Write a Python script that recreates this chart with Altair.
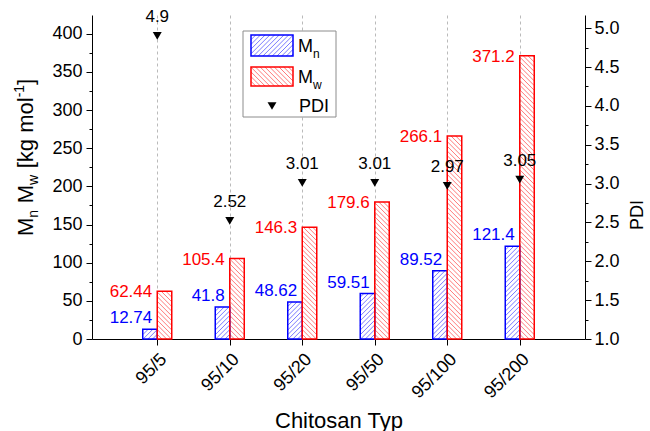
import altair as alt
import pandas as pd

# ---------------- data ----------------
categories = ["95/5", "95/10", "95/20", "95/50", "95/100", "95/200"]
mn_values = [12.74, 41.8, 48.62, 59.51, 89.52, 121.4]
mw_values = [62.44, 105.4, 146.3, 179.6, 266.1, 371.2]
pdi_values = [4.9, 2.52, 3.01, 3.01, 2.97, 3.05]

series_names = ["Mn", "Mw"]
series_colors = ["#0000ff", "#ff0000"]
hatch_colors = ["#7a7aff", "#ff7a7a"]

n_cat = len(categories)
bars_df = pd.DataFrame({
    "idx": list(range(1, n_cat + 1)) * 2,
    "series": [series_names[0]] * n_cat + [series_names[1]] * n_cat,
    "value": mn_values + mw_values,
})
bars_df["label"] = bars_df["value"].map(str)

pdi_df = pd.DataFrame({"idx": list(range(1, n_cat + 1)), "pdi": pdi_values})
pdi_df["label"] = pdi_df["pdi"].map(str)

# ---------------- layout ----------------
W, H = 493, 324
PAD = {"left": 92, "top": 15, "right": 65, "bottom": 92}
X_DOM = [0.1, 6.9]
Y_DOM = [0, 424.5]
P_DOM = [1.0, 5.17]
BAR_W = 0.2          # bar width in category units
HATCH_GAP = 4.7      # vertical distance between hatch lines, px
FONT = "Liberation Sans"
TICK_FS = 18
VALUE_FS = 17

px_x = W / (X_DOM[1] - X_DOM[0])
px_y = H / (Y_DOM[1] - Y_DOM[0])
D = BAR_W * px_x / px_y      # 45 degree rise across one bar, in y units
S = HATCH_GAP / px_y         # hatch spacing in y units

xs = alt.Scale(domain=X_DOM, nice=False, zero=False)
ys = alt.Scale(domain=Y_DOM, nice=False, zero=False)
ps = alt.Scale(domain=P_DOM, nice=False, zero=False)

x_label_expr = "[" + ",".join(f"'{c}'" for c in categories) + "][datum.value - 1]"
x_axis = alt.Axis(
    values=list(range(1, n_cat + 1)), labelExpr=x_label_expr,
    grid=True, gridDash=[3, 3], gridColor="#a8a8a8", gridWidth=0.8,
    domainColor="black", domainWidth=1, tickColor="black", tickSize=6, tickWidth=1,
    labelAngle=315, labelAlign="right", labelBaseline="top", labelPadding=5,
    labelFontSize=TICK_FS, labelColor="black", labelOverlap=False,
    title="Chitosan Typ", titleFontSize=22, titleFontWeight="normal",
    titleColor="black", titleY=88, titleBaseline="alphabetic",
)
y_axis = alt.Axis(
    values=list(range(0, 425, 25)),
    labelExpr="datum.value % 50 === 0 ? datum.label : ''",
    tickSize={"condition": {"test": "datum.value % 50 === 0", "value": 6}, "value": 3},
    grid=False, domainColor="black", tickColor="black", tickWidth=1,
    labelFontSize=TICK_FS, labelColor="black", labelPadding=4, title="",
)
p_axis = alt.Axis(
    orient="right",
    values=[round(P_DOM[0] + 0.25 * i, 2) for i in range(17)],
    labelExpr="round(datum.value * 4) % 2 === 0 ? format(datum.value, '.1f') : ''",
    tickSize={"condition": {"test": "round(datum.value * 4) % 2 === 0", "value": 6}, "value": 3},
    grid=False, domainColor="black", tickColor="black", tickWidth=1,
    labelFontSize=TICK_FS, labelColor="black", labelPadding=3, title="",
)

IS_MN = f"datum.series === '{series_names[0]}'"

# ---------------- hatching inside the bars ----------------
hatch = (
    alt.Chart(bars_df)
    .transform_calculate(lo=f"{IS_MN} ? datum.idx - {BAR_W} : datum.idx")
    .transform_calculate(hc=f"{IS_MN} ? '{hatch_colors[0]}' : '{hatch_colors[1]}'")
    .transform_calculate(k=f"sequence(1, ceil((datum.value + {D}) / {S}) + 1)")
    .transform_flatten(["k"])
    .transform_calculate(c=f"datum.k * {S} - {D}")
    .transform_calculate(ya=f"{IS_MN} ? max(datum.c, 0) : min(datum.c + {D}, datum.value)")
    .transform_calculate(yb=f"{IS_MN} ? min(datum.c + {D}, datum.value) : max(datum.c, 0)")
    .transform_calculate(xa=f"{IS_MN} ? datum.lo + (datum.ya - datum.c) / {D} * {BAR_W} "
                            f": datum.lo + (datum.c + {D} - datum.ya) / {D} * {BAR_W}")
    .transform_calculate(xb=f"{IS_MN} ? datum.lo + (datum.yb - datum.c) / {D} * {BAR_W} "
                            f": datum.lo + (datum.c + {D} - datum.yb) / {D} * {BAR_W}")
    .transform_filter(f"{IS_MN} ? datum.yb > datum.ya + 0.01 : datum.ya > datum.yb + 0.01")
    .mark_rule(strokeWidth=1)
    .encode(
        x=alt.X("xa:Q", scale=xs, axis=x_axis), x2="xb:Q",
        y=alt.Y("ya:Q", scale=ys, axis=y_axis), y2="yb:Q",
        color=alt.Color("hc:N", scale=None),
    )
)

bars = (
    alt.Chart(bars_df)
    .transform_calculate(lo=f"{IS_MN} ? datum.idx - {BAR_W} : datum.idx")
    .transform_calculate(hi=f"datum.lo + {BAR_W}")
    .transform_calculate(bc=f"{IS_MN} ? '{series_colors[0]}' : '{series_colors[1]}'")
    .mark_bar(fill="transparent", strokeWidth=1.5)
    .encode(
        x=alt.X("lo:Q", scale=xs, axis=x_axis), x2="hi:Q",
        y=alt.Y("value:Q", scale=ys, axis=y_axis), y2=alt.datum(0),
        stroke=alt.Stroke("bc:N", scale=None),
    )
)


def value_labels(series, color, dy):
    return (
        alt.Chart(bars_df)
        .transform_filter(f"datum.series === '{series}'")
        .mark_text(align="right", baseline="middle", dx=-5, dy=dy,
                   fontSize=VALUE_FS, color=color)
        .encode(
            x=alt.X("idx:Q", scale=xs, axis=x_axis),
            y=alt.Y("value:Q", scale=ys, axis=y_axis),
            text="label:N",
        )
    )


mn_labels = value_labels(series_names[0], series_colors[0], -11)
mw_labels = value_labels(series_names[1], series_colors[1], 1)

left = alt.layer(hatch, bars, mn_labels, mw_labels)

pdi_points = alt.Chart(pdi_df).mark_point(
    shape="triangle-down", filled=True, size=80, color="black", opacity=1
).encode(
    x=alt.X("idx:Q", scale=xs, axis=x_axis),
    y=alt.Y("pdi:Q", scale=ps, axis=p_axis),
)
pdi_text = alt.Chart(pdi_df).mark_text(
    dy=-19, baseline="middle", fontSize=VALUE_FS, color="black"
).encode(
    x=alt.X("idx:Q", scale=xs, axis=x_axis),
    y=alt.Y("pdi:Q", scale=ps, axis=p_axis),
    text="label:N",
)
right = alt.layer(pdi_points, pdi_text)

# ---------------- titles and legend (pixel space) ----------------
one = pd.DataFrame({"o": [0]})
ADV = {"M": .833, "n": .556, "w": .722, " ": .278, "[": .278, "k": .5, "g": .556,
       "m": .833, "o": .556, "l": .222, "-": .333, "1": .556, "]": .278}


def text_piece(s, x, y, size, angle=0, align="left", baseline="alphabetic", color="black"):
    return alt.Chart(one).mark_text(
        text=s, angle=angle, align=align, baseline=baseline,
        fontSize=size, color=color,
    ).encode(x=alt.value(x), y=alt.value(y))


# y-axis title: M_n M_w [kg mol^-1], reading upwards; gaps are explicit advances
TITLE_SIZE, SUB_SIZE = 22, 14
pieces = [("M", TITLE_SIZE, 0, 0), ("n", SUB_SIZE, 5, 0.3), ("M", TITLE_SIZE, 0, 0),
          ("w", SUB_SIZE, 5, 0.3), ("[kg mol", TITLE_SIZE, 0, 0), ("-1", SUB_SIZE, -9, 0),
          ("]", TITLE_SIZE, 0, 0)]
title_layers = []
ty = 221.0
tx = -59.0
for s, size, shift, gap_after in pieces:
    title_layers.append(text_piece(s, tx + shift, ty, size, angle=270))
    ty -= sum(ADV[ch] for ch in s) * size + gap_after * TITLE_SIZE

title_layers.append(text_piece("PDI", 551, 200, 18, angle=270, align="center"))

# legend box
LEG = (151, 16, 244, 102)
SW_X = (159, 201)
SW_Y = {series_names[0]: (20, 41), series_names[1]: (52, 71)}
legend_box = alt.Chart(one).mark_rect(
    fill="white", stroke="#8c8c8c", strokeWidth=1
).encode(x=alt.value(LEG[0]), x2=alt.value(LEG[2]), y=alt.value(LEG[1]), y2=alt.value(LEG[3]))

leg_df = pd.DataFrame({"series": series_names})
G = HATCH_GAP
leg_hatch = (
    alt.Chart(leg_df)
    .transform_calculate(x0=str(SW_X[0]), x1=str(SW_X[1]))
    .transform_calculate(y0=f"{IS_MN} ? {SW_Y['Mn'][0]} : {SW_Y['Mw'][0]}")
    .transform_calculate(y1=f"{IS_MN} ? {SW_Y['Mn'][1]} : {SW_Y['Mw'][1]}")
    .transform_calculate(hc=f"{IS_MN} ? '{hatch_colors[0]}' : '{hatch_colors[1]}'")
    .transform_calculate(k=f"sequence(1, ceil((datum.x1 - datum.x0 + datum.y1 - datum.y0) / {G}))")
    .transform_flatten(["k"])
    .transform_calculate(C=f"{IS_MN} ? datum.x0 + datum.y0 + datum.k * {G} "
                           f": datum.x0 - datum.y1 + datum.k * {G}")
    .transform_calculate(xa=f"{IS_MN} ? max(datum.x0, datum.C - datum.y1) : max(datum.x0, datum.C + datum.y0)")
    .transform_calculate(xb=f"{IS_MN} ? min(datum.x1, datum.C - datum.y0) : min(datum.x1, datum.C + datum.y1)")
    .transform_calculate(ya=f"{IS_MN} ? datum.C - datum.xa : datum.xa - datum.C")
    .transform_calculate(yb=f"{IS_MN} ? datum.C - datum.xb : datum.xb - datum.C")
    .transform_filter("datum.xb > datum.xa + 0.1")
    .mark_rule(strokeWidth=1)
    .encode(
        x=alt.X("xa:Q", scale=None, axis=None), x2="xb:Q",
        y=alt.Y("ya:Q", scale=None, axis=None), y2="yb:Q",
        color=alt.Color("hc:N", scale=None),
    )
)

legend_layers = [legend_box, leg_hatch]
for name, col in zip(series_names, series_colors):
    y0, y1 = SW_Y[name]
    legend_layers.append(
        alt.Chart(one).mark_rect(fill="transparent", stroke=col, strokeWidth=1.5)
        .encode(x=alt.value(SW_X[0]), x2=alt.value(SW_X[1]), y=alt.value(y0), y2=alt.value(y1))
    )
    legend_layers.append(text_piece("M", 206, (y0 + y1) / 2 + 6, 18))
    legend_layers.append(text_piece(name[1], 221, (y0 + y1) / 2 + 12, 12))

legend_layers.append(
    alt.Chart(one).mark_point(shape="triangle-down", filled=True, size=80,
                              color="black", opacity=1)
    .encode(x=alt.value(180), y=alt.value(91))
)
legend_layers.append(text_piece("PDI", 207, 97, 18))

chart = (
    alt.layer(left, right, *title_layers, *legend_layers)
    .resolve_scale(y="independent")
    .properties(width=W, height=H, padding=PAD,
                autosize=alt.AutoSizeParams(type="none"))
    .configure(font=FONT)
    .configure_view(strokeWidth=0)
)

chart.save("out.html", embed_options={"renderer": "svg", "actions": False})
